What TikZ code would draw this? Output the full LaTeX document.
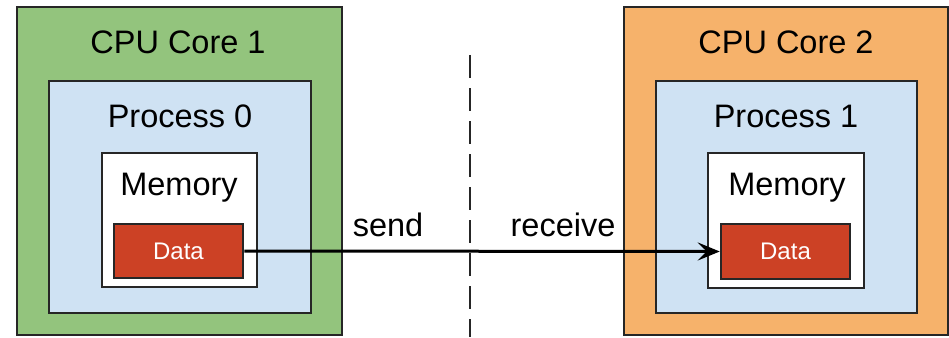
\documentclass[tikz,border=0pt]{standalone}
\usepackage{fontspec}
\setmainfont{Liberation Sans}
\usetikzlibrary{arrows.meta}
\definecolor{coregreen}{HTML}{93C47D}
\definecolor{coreorange}{HTML}{F6B26B}
\definecolor{procblue}{HTML}{CFE2F3}
\definecolor{datared}{HTML}{CC4125}
\tikzset{
  box/.style={draw=black!85, line width=2.5pt, inner sep=0pt},
  label/.style={font=\fontsize{32.5}{39}\selectfont, inner sep=0pt, anchor=center},
  datalabel/.style={font=\fontsize{24}{29}\selectfont, text=white, inner sep=0pt},
}
\begin{document}
\begin{tikzpicture}[x=1pt,y=-1pt]
\useasboundingbox (0,0) rectangle (949,337);
% left core
\node[box, fill=coregreen, minimum width=325pt, minimum height=328pt] (core1) at (179.5,171) {};
\node[box, fill=procblue, minimum width=262pt, minimum height=232pt] (proc0) at (180,197) {};
\node[box, fill=white, minimum width=155pt, minimum height=134pt] (mem0) at (179.5,220) {};
\node[box, fill=datared, minimum width=129pt, minimum height=54pt] (data0) at (178.5,251) {};
\node[label] (core1t) at (178,42) {CPU Core 1};
\node[label] (proc0t) at (180,116) {Process 0};
\node[label] (mem0t) at (179,188) {Memory};
\node[datalabel] (data0t) at (data0) {Data};
% right core
\node[box, fill=coreorange, minimum width=324pt, minimum height=328pt] (core2) at (786,171) {};
\node[box, fill=procblue, minimum width=261pt, minimum height=232pt] (proc1) at (786.5,197) {};
\node[box, fill=white, minimum width=156pt, minimum height=135pt] (mem1) at (786,220.5) {};
\node[box, fill=datared, minimum width=129pt, minimum height=55pt] (data1) at (785.5,251.5) {};
\node[label] (core2t) at (786,42) {CPU Core 2};
\node[label] (proc1t) at (786,116) {Process 1};
\node[label] (mem1t) at (787,188) {Memory};
\node[datalabel] (data1t) at (data1) {Data};
% divider
\coordinate (dtop) at (470,55);
\coordinate (dbot) at (470,337);
\draw[line width=2.2pt, black!85, dash pattern=on 23pt off 10pt] (dtop) -- (dbot);
% message
\node[label] (sendt) at (388,225) {send};
\node[label] (recvt) at (563,225) {receive};
\draw[line width=3pt, -{Stealth[length=22pt, width=18pt, inset=9pt]}] (data0.east) -- (data1.west);
\end{tikzpicture}
\end{document}
